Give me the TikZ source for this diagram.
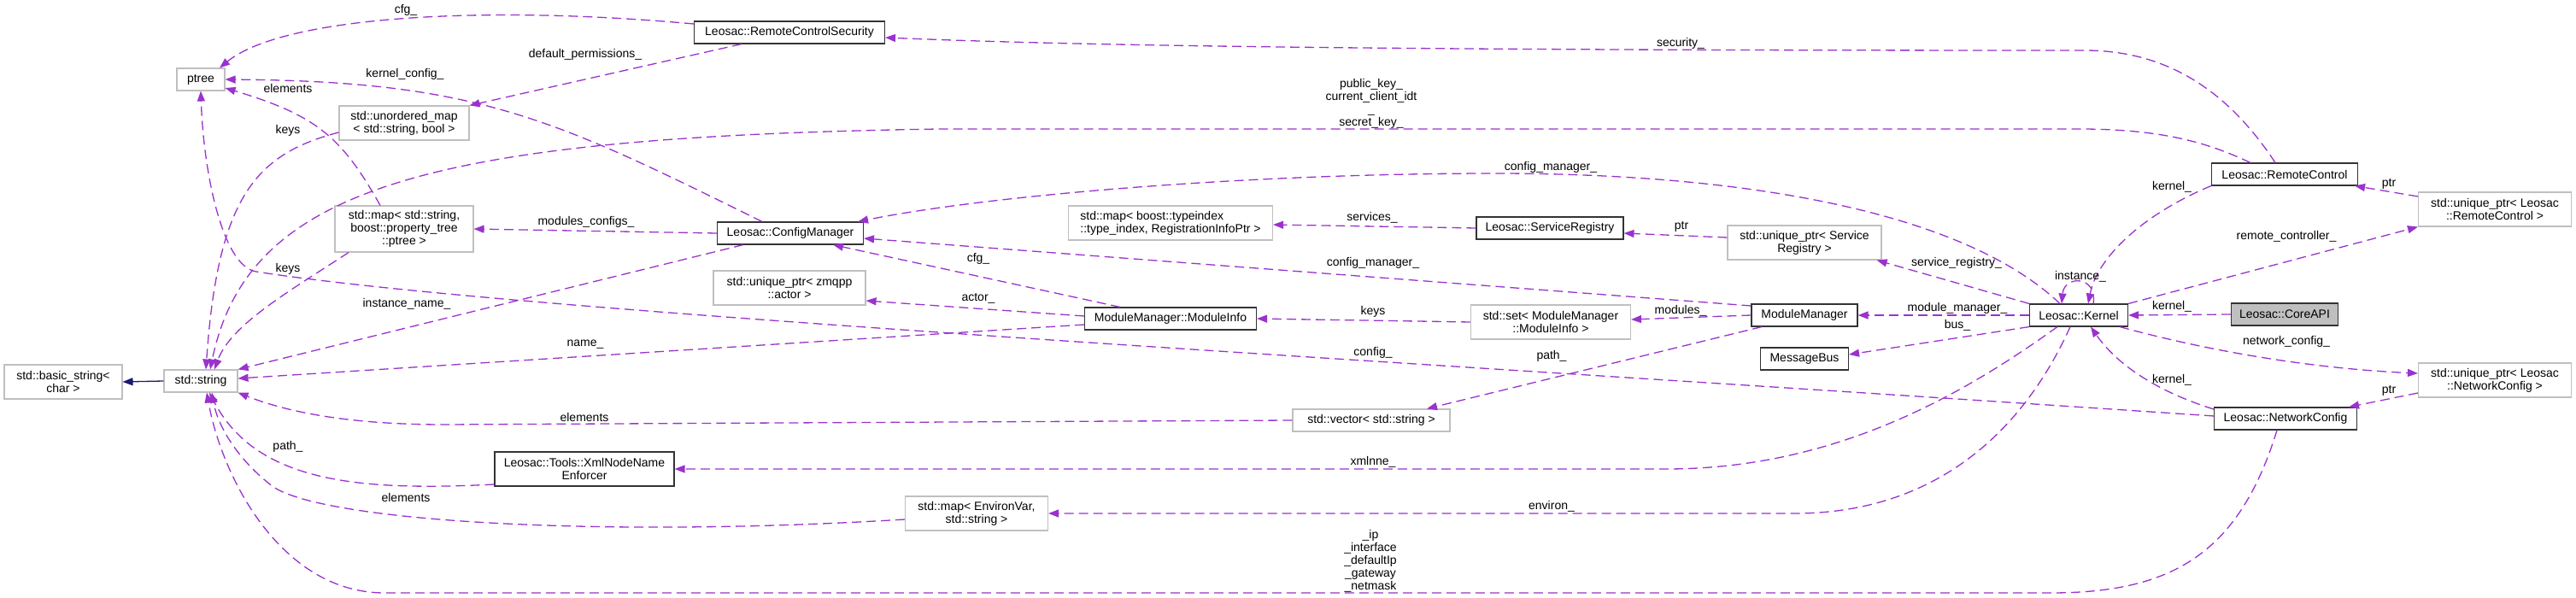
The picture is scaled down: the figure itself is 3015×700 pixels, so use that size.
\documentclass[tikz,border=0pt]{standalone}
\usepackage{fontspec}
\setmainfont{Liberation Sans}
\usetikzlibrary{arrows.meta}

\definecolor{mbrPurple}{HTML}{9A32CD}
\definecolor{inhBlue}{HTML}{191970}
\definecolor{extGrey}{HTML}{BFBFBF}

\begin{document}
\begin{tikzpicture}[x=1pt,y=-1pt,font=\fontsize{14}{15}\selectfont,
		cls/.style={draw=black!80,line width=1.1pt,fill=white,inner sep=0pt,align=center,minimum height=26pt},
		ext/.style={cls,draw=extGrey},
		api/.style={cls,fill=extGrey},
		mbr/.style={draw=mbrPurple,line width=1.3pt,dash pattern=on 11pt off 6pt,-{Triangle[length=12pt,width=9pt]}},
		inh/.style={draw=inhBlue,line width=1.3pt,-{Triangle[length=12pt,width=9pt]}},
		lbl/.style={inner sep=0pt,align=center},
	]
		\useasboundingbox (0,0) rectangle (3015,700);

		\node[ext,minimum width=56pt] (ptree) at (235,93) {ptree};
		\node[ext,minimum width=152pt,minimum height=40pt] (umap) at (473,144) {std::unordered\_map\\< std::string, bool >};
		\node[ext,minimum width=162pt,minimum height=54pt] (smap) at (473,268) {std::map< std::string,\\boost::property\_tree\\::ptree >};
		\node[ext,minimum width=138pt,minimum height=40pt] (bstr) at (74,447) {std::basic\_string<\\char >};
		\node[ext,minimum width=86pt] (str) at (235,446) {std::string};
		\node[cls,minimum width=210pt,minimum height=40pt] (xml) at (684,549) {Leosac::Tools::XmlNodeName\\Enforcer};
		\node[cls,minimum width=223pt] (rcs) at (924,38) {Leosac::RemoteControlSecurity};
		\node[cls,minimum width=171pt] (cfgm) at (925,273) {Leosac::ConfigManager};
		\node[ext,minimum width=178pt,minimum height=40pt] (zmq) at (924,337) {std::unique\_ptr< zmqpp\\::actor >};
		\node[ext,minimum width=239pt,minimum height=40pt,align=left] (tmap) at (1370,261) {std::map< boost::typeindex\\::type\_index, RegistrationInfoPtr >};
		\node[cls,minimum width=201pt] (minfo) at (1370,373) {ModuleManager::ModuleInfo};
		\node[ext,minimum width=167pt,minimum height=40pt] (emap) at (1143,601) {std::map< EnvironVar,\\std::string >};
		\node[cls,minimum width=172pt] (sreg) at (1814,267) {Leosac::ServiceRegistry};
		\node[ext,minimum width=180pt,minimum height=40pt] (usreg) at (2112,284) {std::unique\_ptr< Service\\Registry >};
		\node[ext,minimum width=187pt,minimum height=40pt] (mset) at (1815,377) {std::set< ModuleManager\\::ModuleInfo >};
		\node[cls,minimum width=124pt] (mmgr) at (2112,369) {ModuleManager};
		\node[cls,minimum width=103pt] (mbus) at (2112,420) {MessageBus};
		\node[ext,minimum width=184pt] (vstr) at (1605,492) {std::vector< std::string >};
		\node[cls,minimum width=171pt] (rc) at (2674,204) {Leosac::RemoteControl};
		\node[ext,minimum width=179pt,minimum height=40pt] (urc) at (2920,245) {std::unique\_ptr< Leosac\\::RemoteControl >};
		\node[cls,minimum width=115pt] (kern) at (2433,369) {Leosac::Kernel};
		\node[api,minimum width=125pt] (core) at (2674,368) {Leosac::CoreAPI};
		\node[ext,minimum width=179pt,minimum height=40pt] (unc) at (2920,445) {std::unique\_ptr< Leosac\\::NetworkConfig >};
		\node[cls,minimum width=167pt] (ncfg) at (2675,490) {Leosac::NetworkConfig};

		\draw[inh] (str.west) -- (bstr.east);

		\draw[mbr] ([yshift=10pt]rcs.west) .. controls (560,5) and (330,20) .. ([xshift=22pt]ptree.north);
		\draw[mbr] ([xshift=-56pt]rcs.south) -- (umap.north east);
		\draw[mbr] ([xshift=-33pt]cfgm.north) .. controls (650,140) and (560,95) .. (ptree.east);
		\draw[mbr] ([xshift=-28pt]smap.north) .. controls (400,160) and (370,135) .. ([yshift=-10pt]ptree.east);
		\draw[mbr] ([yshift=-11pt]umap.west) .. controls (300,180) and (255,230) .. ([xshift=6pt]str.north);
		\draw[mbr] ([xshift=-65pt]smap.south) .. controls (340,340) and (270,380) .. ([xshift=16pt]str.north);
		\draw[mbr] (cfgm.west) -- (smap.east);
		\draw[mbr] ([xshift=-55pt]cfgm.south) -- (str.north east);
		\draw[mbr] ([yshift=-7pt]minfo.west) -- ([yshift=3pt]str.east);
		\draw[mbr] ([yshift=3pt]ncfg.west) .. controls (1600,420) and (600,365) .. (300,318) .. controls (260,312) and (238,200) .. (ptree.south);
		\draw[mbr] (vstr.west) -- (520,497) .. controls (400,497) and (330,480) .. (str.south east);
		\draw[mbr] ([yshift=-18pt]xml.west) .. controls (420,575) and (300,565) .. ([xshift=10pt]str.south);
		\draw[mbr] ([yshift=-7pt]emap.west) .. controls (700,630) and (380,610) .. (320,570) .. controls (280,540) and (255,500) .. ([xshift=13pt]str.south);
		\draw[mbr] ([xshift=-10pt]ncfg.south) .. controls (2620,650) and (2540,694) .. (2400,694) -- (450,694) .. controls (330,694) and (260,560) .. ([xshift=7pt]str.south);
		\draw[mbr] ([xshift=-11pt]rc.north) .. controls (2610,110) and (2540,59) .. (2440,59) .. controls (1700,59) and (1300,55) .. ([yshift=-6pt]rcs.east);
		\draw[mbr] ([xshift=-40pt]rc.north) .. controls (2590,170) and (2540,152) .. (2440,151) -- (1100,151) .. controls (500,160) and (290,220) .. ([xshift=11pt]str.north);
		\draw[mbr] ([xshift=-22pt]kern.north) .. controls (2300,250) and (2050,203) .. (1750,203) .. controls (1450,203) and (1150,230) .. ([xshift=-7pt]cfgm.north east);
		\draw[mbr] (kern.north west) -- ([xshift=-6pt]usreg.south east);
		\draw[mbr] ([yshift=6pt]usreg.west) -- ([yshift=-6pt]sreg.east);
		\draw[mbr] (sreg.west) -- ([yshift=-2pt]tmap.east);
		\draw[mbr] ([yshift=11pt]mmgr.west) -- ([yshift=-6pt]cfgm.east);
		\draw[mbr] ([xshift=-59pt]minfo.north) -- ([xshift=50pt]cfgm.south);
		\draw[mbr] ([yshift=3pt]minfo.west) -- ([yshift=-15pt]zmq.east);
		\draw[mbr] (mset.west) -- (minfo.east);
		\draw[mbr] (mmgr.west) -- ([yshift=3pt]mset.east);
		\draw[mbr] ([xshift=-50pt]mmgr.south) -- ([xshift=65pt]vstr.north);
		\draw[mbr] (kern.west) -- (mmgr.east);
		\draw[mbr] (kern.south west) -- ([yshift=5pt]mbus.east);
		\draw[mbr] ([xshift=-25pt]kern.south) .. controls (2300,460) and (2150,549) .. (1950,549) -- (xml.east);
		\draw[mbr] ([xshift=-10pt]kern.south) .. controls (2370,500) and (2270,601) .. (2100,601) -- (emap.east);
		\draw[mbr] ([xshift=17pt]kern.north) .. controls (2455,322) and (2416,322) .. ([xshift=-20pt]kern.north);
		\draw[mbr] (rc.south west) .. controls (2510,250) and (2455,300) .. ([xshift=11pt]kern.north);
		\draw[mbr] (kern.north east) -- (urc.south west);
		\draw[mbr] ([yshift=15pt]urc.west) -- ([xshift=-4pt]rc.south east);
		\draw[mbr] (core.west) -- (kern.east);
		\draw[mbr] ([xshift=48pt]kern.south) .. controls (2600,415) and (2720,432) .. ([yshift=8pt]unc.west);
		\draw[mbr] ([yshift=11pt]ncfg.west) .. controls (2530,460) and (2480,430) .. ([xshift=14pt]kern.south);
		\draw[mbr] ([yshift=-15pt]unc.west) -- ([xshift=-10pt]ncfg.north east);

		\node[lbl] (l-cfg) at (475,12) {cfg\_};
		\node[lbl] (l-perm) at (685,64) {default\_permissions\_};
		\node[lbl] (l-kcfg) at (474,87) {kernel\_config\_};
		\node[lbl] (l-elem1) at (337,103) {elements};
		\node[lbl] (l-keys1) at (337,153) {keys};
		\node[lbl] (l-keys2) at (337,315) {keys};
		\node[lbl] (l-modcfg) at (686,260) {modules\_configs\_};
		\node[lbl] (l-iname) at (476,356) {instance\_name\_};
		\node[lbl] (l-name) at (685,403) {name\_};
		\node[lbl] (l-config) at (1607,413) {config\_};
		\node[lbl] (l-elem2) at (684,488) {elements};
		\node[lbl] (l-path1) at (337,523) {path\_};
		\node[lbl] (l-elem3) at (475,582) {elements};
		\node[lbl] (l-net) at (1604,657) {\_ip\\\_interface\\\_defaultIp\\\_gateway\\\_netmask};
		\node[lbl] (l-sec) at (1967,51) {security\_};
		\node[lbl] (l-keypair) at (1605,121) {public\_key\_\\current\_client\_idt\\\_\\secret\_key\_};
		\node[lbl] (l-cmgr1) at (1815,196) {config\_manager\_};
		\node[lbl] (l-sreg) at (2290,308) {service\_registry\_};
		\node[lbl] (l-ptr1) at (1968,265) {ptr};
		\node[lbl] (l-serv) at (1606,255) {services\_};
		\node[lbl] (l-cmgr2) at (1607,308) {config\_manager\_};
		\node[lbl] (l-cfg2) at (1145,303) {cfg\_};
		\node[lbl] (l-actor) at (1145,349) {actor\_};
		\node[lbl] (l-keys3) at (1607,365) {keys};
		\node[lbl] (l-mods) at (1967,364) {modules\_};
		\node[lbl] (l-path2) at (1816,417) {path\_};
		\node[lbl] (l-mmgr) at (2291,361) {module\_manager\_};
		\node[lbl] (l-bus) at (2291,381) {bus\_};
		\node[lbl] (l-xml) at (1607,541) {xmlnne\_};
		\node[lbl] (l-env) at (1816,593) {environ\_};
		\node[lbl] (l-inst) at (2435,324) {instance\_};
		\node[lbl] (l-kern1) at (2542,219) {kernel\_};
		\node[lbl] (l-rctl) at (2676,277) {remote\_controller\_};
		\node[lbl] (l-ptr2) at (2796,215) {ptr};
		\node[lbl] (l-kern2) at (2542,359) {kernel\_};
		\node[lbl] (l-ncfg) at (2676,400) {network\_config\_};
		\node[lbl] (l-kern3) at (2542,445) {kernel\_};
		\node[lbl] (l-ptr3) at (2796,457) {ptr};
	\end{tikzpicture}
\end{document}
